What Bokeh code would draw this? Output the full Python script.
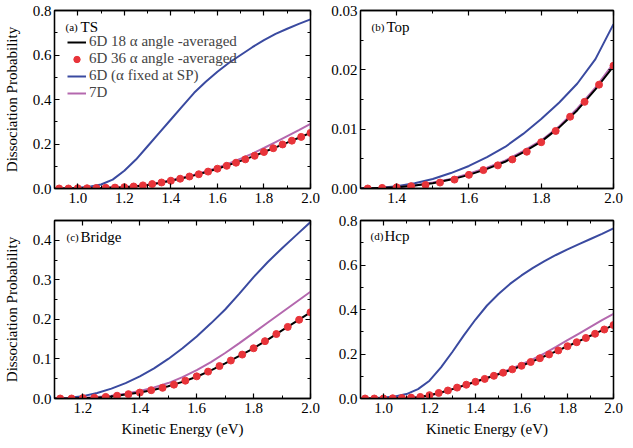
from bokeh.plotting import figure
from bokeh.layouts import gridplot
from bokeh.models import (Range1d, FixedTicker, PrintfTickFormatter, LinearAxis,
                          Legend, LegendItem, Label, CustomLabelingPolicy)
from bokeh.embed import file_html
from bokeh.resources import INLINE

# ---------------- data ----------------
# line grids
x_09 = [0.90, 0.95, 1.00, 1.05, 1.10, 1.15, 1.20, 1.25, 1.30, 1.35, 1.40, 1.45,
        1.50, 1.55, 1.60, 1.65, 1.70, 1.75, 1.80, 1.85, 1.90, 1.95, 2.00]
x_13 = [1.30, 1.35, 1.40, 1.45, 1.50, 1.55, 1.60, 1.65, 1.70, 1.75, 1.80, 1.85,
        1.90, 1.95, 2.00]
x_11 = [1.10, 1.15, 1.20, 1.25, 1.30, 1.35, 1.40, 1.45, 1.50, 1.55, 1.60, 1.65,
        1.70, 1.75, 1.80, 1.85, 1.90, 1.95, 2.00]
# dot grids (36 alpha)
xd_09 = [0.92, 0.96, 1.00, 1.04, 1.08, 1.12, 1.16, 1.20, 1.24, 1.28, 1.32, 1.36,
         1.40, 1.44, 1.48, 1.52, 1.56, 1.60, 1.64, 1.68, 1.72, 1.76, 1.80, 1.84,
         1.88, 1.92, 1.96, 2.00]
xd_13 = [1.32, 1.36, 1.40, 1.44, 1.48, 1.52, 1.56, 1.60, 1.64, 1.68, 1.72, 1.76,
         1.80, 1.84, 1.88, 1.92, 1.96, 2.00]
xd_11 = [1.12, 1.16, 1.20, 1.24, 1.28, 1.32, 1.36, 1.40, 1.44, 1.48, 1.52, 1.56,
         1.60, 1.64, 1.68, 1.72, 1.76, 1.80, 1.84, 1.88, 1.92, 1.96, 2.00]

# (a) TS
ts_fixed = [0.0, 0.001, 0.003, 0.008, 0.018, 0.04, 0.08, 0.13, 0.19, 0.25, 0.31, 0.37,
            0.43, 0.48, 0.525, 0.565, 0.60, 0.635, 0.667, 0.695, 0.718, 0.74, 0.76]
ts_7d = [0.0, 0.0, 0.001, 0.002, 0.003, 0.005, 0.007, 0.011, 0.017, 0.026, 0.037, 0.049,
         0.062, 0.077, 0.094, 0.113, 0.134, 0.157, 0.182, 0.208, 0.235, 0.262, 0.29]
ts_18 = [0.0, 0.0, 0.001, 0.001, 0.002, 0.004, 0.006, 0.010, 0.016, 0.025, 0.035, 0.046,
         0.059, 0.073, 0.089, 0.106, 0.124, 0.143, 0.164, 0.185, 0.206, 0.228, 0.25]
ts_36 = [0.0, 0.0, 0.001, 0.001, 0.002, 0.003, 0.004, 0.006, 0.009, 0.014, 0.020, 0.027,
         0.035, 0.044, 0.054, 0.064, 0.076, 0.089, 0.102, 0.116, 0.131, 0.147, 0.164, 0.181,
         0.198, 0.215, 0.232, 0.25]

# (b) Top
top_fixed = [0.0, 0.0001, 0.0004, 0.0009, 0.0016, 0.0026, 0.0038, 0.0053, 0.0070, 0.0092,
             0.0117, 0.0145, 0.0177, 0.0218, 0.0277]
top_7d = [0.0, 0.0001, 0.0002, 0.0005, 0.0010, 0.0016, 0.0025, 0.0035, 0.0047, 0.0063,
          0.0081, 0.0105, 0.0135, 0.0170, 0.0211]
top_18 = [0.0, 0.0001, 0.0002, 0.0005, 0.0009, 0.0015, 0.0023, 0.0033, 0.0045, 0.0061,
          0.0079, 0.0103, 0.0132, 0.0167, 0.0206]
top_36 = [0.0, 0.0001, 0.0002, 0.0004, 0.0006, 0.0010, 0.0015, 0.0023, 0.0031, 0.0039,
          0.0049, 0.0062, 0.0078, 0.0097, 0.0121, 0.0146, 0.0175, 0.0207]

# (c) Bridge
br_fixed = [0.0, 0.002, 0.006, 0.014, 0.025, 0.039, 0.056, 0.076, 0.10, 0.127, 0.157,
            0.19, 0.225, 0.265, 0.307, 0.345, 0.38, 0.413, 0.446]
br_7d = [0.0, 0.001, 0.002, 0.004, 0.007, 0.012, 0.019, 0.028, 0.039, 0.054, 0.072,
         0.092, 0.115, 0.14, 0.166, 0.192, 0.218, 0.244, 0.27]
br_18 = [0.0, 0.0, 0.001, 0.002, 0.005, 0.010, 0.015, 0.022, 0.031, 0.042, 0.055,
         0.071, 0.089, 0.108, 0.127, 0.149, 0.172, 0.195, 0.218]
br_36 = [0.0, 0.0, 0.001, 0.002, 0.004, 0.007, 0.011, 0.015, 0.021, 0.027, 0.035, 0.045,
         0.056, 0.068, 0.082, 0.096, 0.111, 0.127, 0.145, 0.163, 0.181, 0.199, 0.218]

# (d) Hcp
hcp_fixed = [0.0, 0.001, 0.004, 0.009, 0.02, 0.042, 0.08, 0.14, 0.21, 0.285, 0.355, 0.418,
             0.47, 0.515, 0.553, 0.587, 0.617, 0.645, 0.67, 0.694, 0.717, 0.74, 0.765]
hcp_7d = [0.0, 0.0, 0.001, 0.002, 0.003, 0.006, 0.013, 0.026, 0.042, 0.058, 0.075, 0.093,
          0.112, 0.132, 0.153, 0.177, 0.203, 0.232, 0.262, 0.292, 0.322, 0.352, 0.38]
hcp_18 = [0.0, 0.0, 0.0, 0.001, 0.003, 0.006, 0.015, 0.027, 0.042, 0.059, 0.075, 0.092,
          0.109, 0.127, 0.147, 0.168, 0.19, 0.212, 0.235, 0.258, 0.282, 0.306, 0.33]
hcp_36 = [0.0, 0.0, 0.0, 0.001, 0.002, 0.004, 0.007, 0.015, 0.025, 0.036, 0.049, 0.062,
          0.075, 0.088, 0.102, 0.116, 0.131, 0.147, 0.164, 0.181, 0.198, 0.216, 0.235, 0.253,
          0.272, 0.291, 0.31, 0.33]

x_ticks_a = [1.0, 1.2, 1.4, 1.6, 1.8, 2.0]
x_ticks_b = [1.4, 1.6, 1.8, 2.0]
x_ticks_c = [1.2, 1.4, 1.6, 1.8, 2.0]
y_ticks_a = [0.0, 0.2, 0.4, 0.6, 0.8]
y_ticks_b = [0.00, 0.01, 0.02, 0.03]
y_ticks_c = [0.0, 0.1, 0.2, 0.3, 0.4]

labels = ["6D 18 \u03b1 angle -averaged", "6D 36 \u03b1 angle -averaged",
          "6D (\u03b1 fixed at SP)", "7D"]

# ---------------- style ----------------
FONT = "'Liberation Serif'"
BLUE = "#3a4aa0"
MAG = "#b468ae"
RED = "#e8343a"
BLACK = "#000000"

FW_L, FW_R, FH = 256, 253, 178

HIDE = CustomLabelingPolicy(code="""
for (const i of indices) { indices.unset(i) }
return indices
""")


def minor(ticks, step):
    out = []
    v = ticks[0] - step
    hi = ticks[-1] + step
    while v <= hi + 1e-9:
        out.append(round(v, 5))
        v += step / 2.0
    return out


def style_axis(ax, ticks, mticks, fmt, show_labels):
    ax.ticker = FixedTicker(ticks=ticks, minor_ticks=mticks)
    ax.formatter = PrintfTickFormatter(format=fmt)
    ax.axis_line_color = "black"
    ax.axis_line_width = 1.3
    ax.major_tick_line_color = "black"
    ax.minor_tick_line_color = "black"
    ax.major_tick_line_width = 1.2
    ax.minor_tick_line_width = 1.0
    ax.major_tick_in = 5
    ax.major_tick_out = 0
    ax.minor_tick_in = 3
    ax.minor_tick_out = 0
    ax.major_label_text_font = FONT
    ax.major_label_text_color = "black"
    ax.axis_label_text_font = FONT
    ax.axis_label_text_font_style = "normal"
    ax.axis_label_text_font_size = "15px"
    ax.axis_label_text_color = "black"
    if show_labels:
        ax.major_label_text_font_size = "15px"
    else:
        ax.major_label_policy = HIDE
        ax.major_label_standoff = 0


def panel(xr, yr, xt, xstep, yt, ystep, yfmt, fw, left, right, top, bottom,
          xlabel, ylabel):
    p = figure(frame_width=fw, frame_height=FH, x_range=Range1d(*xr), y_range=Range1d(*yr),
               output_backend="svg", toolbar_location=None,
               min_border_left=left, min_border_right=right,
               min_border_top=top, min_border_bottom=bottom)
    p.xgrid.visible = False
    p.ygrid.visible = False
    p.outline_line_color = "black"
    p.outline_line_width = 1.3
    p.background_fill_color = "white"
    p.border_fill_color = "white"
    xa = p.xaxis[0]
    ya = p.yaxis[0]
    style_axis(xa, xt, minor(xt, xstep), "%.1f", True)
    style_axis(ya, yt, minor(yt, ystep), yfmt, True)
    xa.major_label_standoff = 4
    ya.major_label_standoff = 3
    if xlabel:
        xa.axis_label = xlabel
        xa.axis_label_standoff = 5
    if ylabel:
        ya.axis_label = ylabel
        ya.axis_label_standoff = 10
    top_ax = LinearAxis()
    style_axis(top_ax, xt, minor(xt, xstep), "%.1f", False)
    right_ax = LinearAxis()
    style_axis(right_ax, yt, minor(yt, ystep), yfmt, False)
    p.add_layout(top_ax, "above")
    p.add_layout(right_ax, "right")
    return p


def add_series(p, xl, fixed, d7, d18, xd, d36):
    r_fixed = p.line(xl, fixed, line_color=BLUE, line_width=2)
    r_7d = p.line(xl, d7, line_color=MAG, line_width=2)
    r_18 = p.line(xl, d18, line_color=BLACK, line_width=2)
    r_36 = p.scatter(xd, d36, size=7, fill_color=RED, line_color=RED, marker="circle")
    return r_18, r_36, r_fixed, r_7d


def tag(p, xr, yr, fw, small, big, dx_small, dx_big, dy):
    def to_data(dx, dy_):
        x = xr[0] + (xr[1] - xr[0]) * dx / fw
        y = yr[1] - (yr[1] - yr[0]) * dy_ / FH
        return x, y
    x1, y1 = to_data(dx_small, dy)
    x2, y2 = to_data(dx_big, dy)
    p.add_layout(Label(x=x1, y=y1, text=small, text_font=FONT, text_font_size="11px",
                       text_baseline="middle", text_color="black"))
    p.add_layout(Label(x=x2, y=y2, text=big, text_font=FONT, text_font_size="15px",
                       text_baseline="middle", text_color="black"))


YLAB = "Dissociation Probability"
XLAB = "Kinetic Energy (eV)"

ra_x, ra_y = (0.9, 2.0), (0.0, 0.8)
rb_x, rb_y = (1.3, 2.0), (0.0, 0.03)
rc_x, rc_y = (1.1, 2.0), (0.0, 0.45)
rd_x, rd_y = (0.9, 2.0), (0.0, 0.8)

pa = panel(ra_x, ra_y, x_ticks_a, 0.2, y_ticks_a, 0.2, "%.1f", FW_L, 54, 10, 9, 22, None, YLAB)
pb = panel(rb_x, rb_y, x_ticks_b, 0.2, y_ticks_b, 0.01, "%.2f", FW_R, 33, 11, 9, 22, None, None)
pc = panel(rc_x, rc_y, x_ticks_c, 0.2, y_ticks_c, 0.1, "%.1f", FW_L, 54, 10, 9, 36, XLAB, YLAB)
pd = panel(rd_x, rd_y, x_ticks_a, 0.2, y_ticks_a, 0.2, "%.1f", FW_R, 33, 11, 9, 36, XLAB, None)

rs = add_series(pa, x_09, ts_fixed, ts_7d, ts_18, xd_09, ts_36)
add_series(pb, x_13, top_fixed, top_7d, top_18, xd_13, top_36)
add_series(pc, x_11, br_fixed, br_7d, br_18, xd_11, br_36)
add_series(pd, x_09, hcp_fixed, hcp_7d, hcp_18, xd_09, hcp_36)

legend = Legend(items=[LegendItem(label=l, renderers=[r]) for l, r in zip(labels, rs)],
                location=(13, FH - 91), padding=0, margin=0, spacing=0,
                glyph_width=19, glyph_height=16, label_height=16, label_standoff=3,
                label_text_font=FONT, label_text_font_size="15px",
                background_fill_alpha=0, border_line_color=None)
pa.add_layout(legend, "center")

tag(pa, ra_x, ra_y, FW_L, "(a)", "TS", 11, 26, 16)
tag(pb, rb_x, rb_y, FW_R, "(b)", "Top", 11, 26, 16)
tag(pc, rc_x, rc_y, FW_L, "(c)", "Bridge", 12, 26, 16)
tag(pd, rd_x, rd_y, FW_R, "(d)", "Hcp", 10, 24, 15)

grid = gridplot([[pa, pb], [pc, pd]], toolbar_location=None)

open("out.html", "w").write(file_html(grid, INLINE))
